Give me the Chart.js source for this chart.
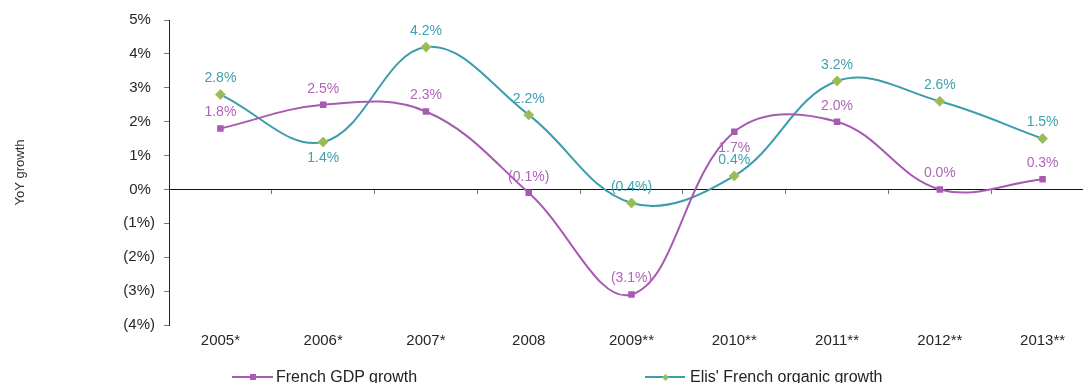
<!DOCTYPE html>
<html>
<head>
<meta charset="utf-8">
<script src="https://cdn.jsdelivr.net/npm/chart.js@4/dist/chart.umd.min.js"></script>
<style>
  html, body { margin: 0; padding: 0; overflow: hidden; background: #fff; }
  #wrap { position: relative; width: 1100px; height: 383px; }
  #chart { display: block; }
  .legend-item {
    position: absolute; top: 367px; height: 20px;
    display: flex; align-items: center; white-space: nowrap;
    font: 16px "Liberation Sans", Arial, sans-serif; color: #222;
  }
  .legend-line { position: relative; height: 2px; }
  .legend-mark { position: absolute; left: 50%; top: 50%; }
</style>
</head>
<body>
<div id="wrap">
  <canvas id="chart" width="1100" height="383"></canvas>
</div>
<script>
// Year categories (* and ** mark the source notes)
const categories = ['2005*', '2006*', '2007*', '2008', '2009**', '2010**', '2011**', '2012**', '2013**'];

// Year-on-year growth, in percent
const frenchGdpGrowth = [1.8, 2.5, 2.3, -0.1, -3.1, 1.7, 2.0, 0.0, 0.3];
const elisOrganicGrowth = [2.8, 1.4, 4.2, 2.2, -0.4, 0.4, 3.2, 2.6, 1.5];

// Where each value label sits relative to its point
const gdpLabelSide = ['above', 'above', 'above', 'above', 'above', 'below', 'above', 'above', 'above'];
const elisLabelSide = ['above', 'below', 'above', 'above', 'above', 'above', 'above', 'above', 'above'];

// Vertical axis tick values, in percent
const yTickValues = [-4, -3, -2, -1, 0, 1, 2, 3, 4, 5];

const FONT = '"Liberation Sans", Arial, Helvetica, sans-serif';
const GDP_COLOR = '#a65bb1';
const GDP_LABEL_COLOR = '#b065b9';
const ELIS_COLOR = '#3b9dab';
const ELIS_LABEL_COLOR = '#3fa0ae';
const ELIS_MARKER = '#9bbb59';

// Negative values are shown in accounting style: (3.1%)
function pctLabel(v) {
  return v < 0 ? '(' + Math.abs(v).toFixed(1) + '%)' : v.toFixed(1) + '%';
}
function axisLabel(v) {
  return v < 0 ? '(' + Math.abs(v) + '%)' : v + '% ';
}

const labelSides = [gdpLabelSide, elisLabelSide];
const labelColors = [GDP_LABEL_COLOR, ELIS_LABEL_COLOR];

// Writes each point's value next to it
const valueLabels = {
  id: 'valueLabels',
  afterDatasetsDraw(chart) {
    const ctx = chart.ctx;
    ctx.save();
    ctx.font = '14px ' + FONT;
    ctx.textAlign = 'center';
    ctx.textBaseline = 'middle';
    chart.data.datasets.forEach((ds, i) => {
      const meta = chart.getDatasetMeta(i);
      ctx.fillStyle = labelColors[i];
      meta.data.forEach((pt, j) => {
        const dy = labelSides[i][j] === 'below' ? 16 : -16;
        ctx.fillText(pctLabel(ds.data[j]), pt.x, pt.y + dy);
      });
    });
    ctx.restore();
  }
};

const chart = new Chart(document.getElementById('chart'), {
  type: 'line',
  data: {
    labels: categories,
    datasets: [
      {
        label: 'French GDP growth',
        data: frenchGdpGrowth,
        borderColor: GDP_COLOR,
        backgroundColor: GDP_COLOR,
        borderWidth: 2,
        tension: 0.38,
        pointStyle: 'rect',
        pointRadius: 4.6,
        pointBackgroundColor: GDP_COLOR,
        pointBorderColor: GDP_COLOR,
        pointBorderWidth: 0
      },
      {
        label: "Elis' French organic growth",
        data: elisOrganicGrowth,
        borderColor: ELIS_COLOR,
        backgroundColor: ELIS_MARKER,
        borderWidth: 2,
        tension: 0.38,
        pointStyle: 'rectRot',
        pointRadius: 5,
        pointBackgroundColor: ELIS_MARKER,
        pointBorderColor: '#a9c45e',
        pointBorderWidth: 1
      }
    ]
  },
  options: {
    responsive: false,
    animation: false,
    events: [],
    layout: { padding: { top: 20, right: 4, bottom: 26, left: 0 } },
    plugins: {
      legend: { display: false },
      tooltip: { enabled: false }
    },
    scales: {
      // Category axis drawn along the zero line, carrying only tick marks
      x: {
        type: 'category',
        position: { y: 0 },
        offset: true,
        grid: { drawOnChartArea: false, offset: true, tickLength: 4, color: '#777' },
        border: { display: true, color: '#111', width: 1 },
        ticks: { display: false }
      },
      // Same categories again at the bottom, carrying the year labels
      x2: {
        type: 'category',
        position: 'bottom',
        offset: true,
        grid: { display: false, drawTicks: false },
        border: { display: false },
        ticks: {
          padding: 7, autoSkip: false, maxRotation: 0,
          color: '#262626', font: { family: FONT, size: 15 }
        }
      },
      y: {
        min: yTickValues[0],
        max: yTickValues[yTickValues.length - 1],
        afterBuildTicks: s => { s.ticks = yTickValues.map(v => ({ value: v })); },
        afterFit: s => { s.width = 169; },
        border: { display: true, color: '#222', width: 1 },
        grid: { drawOnChartArea: false, tickLength: 5, color: '#777' },
        ticks: {
          padding: 9,
          color: '#262626',
          font: { family: FONT, size: 15 },
          callback: v => axisLabel(v)
        },
        title: {
          display: true,
          text: 'YoY growth',
          color: '#333',
          font: { family: FONT, size: 13 },
          padding: { top: 13, bottom: 0 }
        }
      }
    }
  },
  plugins: [valueLabels]
});

// Legend built from the datasets, spread along the bottom edge
const legendLeft = [232, 645];
const legendLineWidth = [41, 40];
const legendGap = [3, 5];
const wrap = document.getElementById('wrap');
chart.data.datasets.forEach((ds, i) => {
  const item = document.createElement('div');
  item.className = 'legend-item';
  item.style.left = legendLeft[i] + 'px';

  const line = document.createElement('span');
  line.className = 'legend-line';
  line.style.width = legendLineWidth[i] + 'px';
  line.style.background = ds.borderColor;
  line.style.marginRight = legendGap[i] + 'px';

  const mark = document.createElement('span');
  mark.className = 'legend-mark';
  if (ds.pointStyle === 'rectRot') {
    mark.style.width = '5px';
    mark.style.height = '5px';
    mark.style.margin = '-2.5px 0 0 -2.5px';
    mark.style.transform = 'rotate(45deg)';
  } else {
    mark.style.width = '6px';
    mark.style.height = '6px';
    mark.style.margin = '-3px 0 0 -3px';
  }
  mark.style.background = ds.pointBackgroundColor;
  line.appendChild(mark);

  const text = document.createElement('span');
  text.textContent = ds.label;

  item.appendChild(line);
  item.appendChild(text);
  wrap.appendChild(item);
});
</script>
</body>
</html>
